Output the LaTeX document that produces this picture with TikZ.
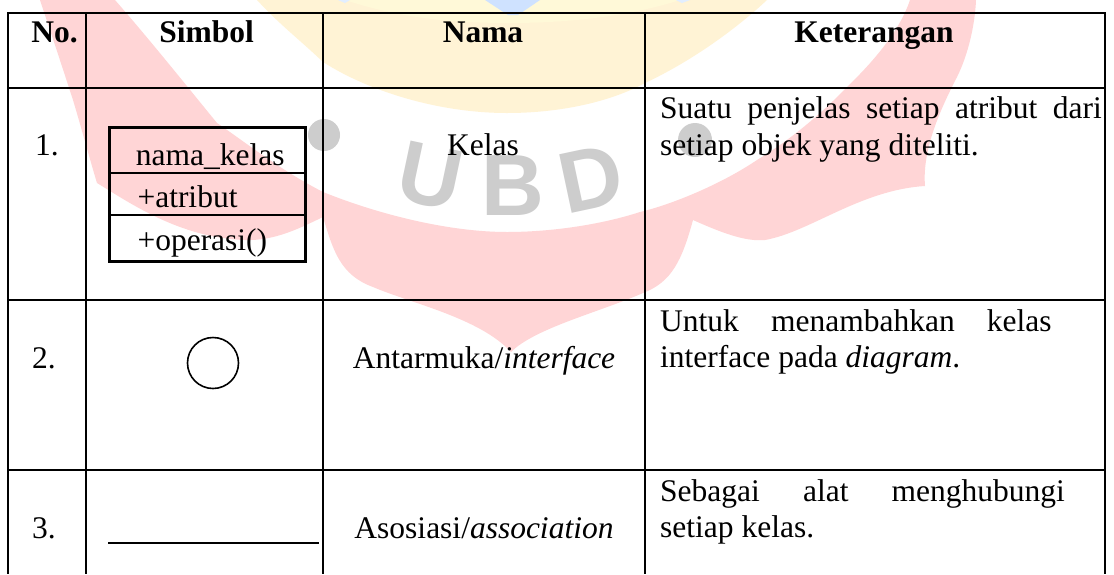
\documentclass[tikz,border=0pt]{standalone}
\usepackage{fontspec}
\setmainfont{Liberation Serif}
\newfontfamily\wmfont{Liberation Sans}
\definecolor{wmred}{HTML}{FFD5D6}
\definecolor{wmyellow}{HTML}{FFF3D5}
\definecolor{wmpale}{HTML}{FFF9D8}
\definecolor{wmblue}{HTML}{CFE2FF}
\definecolor{wmgray}{HTML}{CDCDCD}
\tikzset{
  rule/.style={line width=2pt,line cap=butt},
  boxrule/.style={line width=3pt},
  boxsep/.style={line width=1.8pt},
  body/.style={anchor=base west,inner sep=0pt,font=\fontsize{31.5pt}{36pt}\selectfont},
  bodyc/.style={anchor=base,inner sep=0pt,font=\fontsize{31.5pt}{36pt}\selectfont},
  head/.style={anchor=base,inner sep=0pt,font=\fontsize{31.5pt}{36pt}\selectfont\bfseries},
  wm/.style={anchor=base,inner sep=0pt,text=wmgray,font=\fontsize{87pt}{87pt}\wmfont\bfseries}
}
\begin{document}
\begin{tikzpicture}[x=1pt,y=-1pt]
\useasboundingbox (0,0) rectangle (1114,574);
\fill[white] (0,0) rectangle (1114,574);
% watermark
\fill[wmyellow] (257,0) .. controls (280,25) and (300,40) .. (323,62)
  .. controls (370,92) and (440,113) .. (507,113)
  .. controls (560,113) and (610,102) .. (645,83)
  .. controls (690,62) and (735,30) .. (767,0) -- cycle;
\fill[wmpale] (345,0) .. controls (400,18) and (450,23) .. (510,23)
  .. controls (570,23) and (630,16) .. (680,0) -- cycle;
\fill[wmblue] (485,0) -- (508,15) -- (518,15) -- (540,0) -- cycle;
\fill[wmblue!60] (338,0) -- (345,3) -- (350,0) -- cycle;
\fill[wmblue!60] (676,0) -- (682,3) -- (690,0) -- cycle;
\fill[wmred] (40,0) .. controls (50,30) and (60,60) .. (73,100)
  .. controls (82,130) and (90,160) .. (97,183)
  .. controls (130,203) and (180,238) .. (245,240)
  .. controls (275,241) and (300,228) .. (323,217)
  .. controls (333,250) and (340,275) .. (373,287)
  .. controls (410,303) and (480,318) .. (511,352)
  .. controls (535,328) and (600,312) .. (643,293)
  .. controls (672,282) and (682,260) .. (693,220)
  .. controls (720,232) and (745,242) .. (765,240)
  .. controls (810,232) and (860,190) .. (925,186)
  .. controls (922,150) and (940,110) .. (957,77)
  .. controls (968,55) and (975,25) .. (976,0)
  -- (910,0)
  .. controls (900,30) and (875,60) .. (847,87)
  .. controls (820,115) and (790,140) .. (757,160)
  .. controls (720,185) and (670,205) .. (640,212)
  .. controls (600,225) and (550,232) .. (507,232)
  .. controls (450,232) and (380,215) .. (323,192)
  .. controls (280,170) and (245,142) .. (217,123)
  .. controls (190,90) and (150,40) .. (115,0) -- cycle;
\fill[wmgray] (324,135) circle[radius=16];
\fill[wmgray] (695,140) circle[radius=17];
\node[wm,rotate=-12] (wmU) at (424,205) {U};
\node[wm] (wmB) at (513,215) {B};
\node[wm,rotate=12] (wmD) at (597,208) {D};
% table rules
\foreach \x in {8.3,86,322.7,645,1105} \draw[rule] (\x,12) -- (\x,574);
\draw[rule] (7.3,13) -- (1106,13);
\foreach \y in {88,299.7,469.7} \draw[rule] (7.3,\y) -- (1106,\y);
% header
\node[head] (hno) at (54.5,42) {No.};
\node[head] (hsim) at (206.7,42) {Simbol};
\node[head] (hnam) at (483,42) {Nama};
\node[head] (hket) at (874,42) {Keterangan};
% row 1
\node[body] (n1) at (35,155.5) {1.};
\node[bodyc] (nama1) at (483,155) {Kelas};
\node[body] (k1a) at (660,118) {\makebox[441.5pt][s]{Suatu penjelas setiap atribut dari}};
\node[body] (k1b) at (660,155) {setiap objek yang diteliti.};
% class box
\draw[boxrule] (109.3,127.5) rectangle (305,261);
\draw[boxsep] (110,172.7) -- (304,172.7);
\draw[boxsep] (110,215) -- (304,215);
\node[body] (c1) at (135.7,165) {nama\_kelas};
\node[body] (c2) at (137.3,207) {+atribut};
\node[body] (c3) at (137.3,250) {+operasi()};
% row 2
\node[body] (n2) at (32,368) {2.};
\draw[line width=1.6pt] (213,363) circle[radius=25.5];
\node[bodyc] (nama2) at (484,368) {Antarmuka/\textit{interface}};
\node[body] (k2a) at (660,331) {\makebox[391.5pt][s]{Untuk menambahkan kelas}};
\node[body] (k2b) at (660,367) {interface pada \textit{diagram}.};
% row 3
\node[body] (n3) at (32,538) {3.};
\draw[rule] (108,542.7) -- (318.6,542.7);
\node[bodyc] (nama3) at (484,538) {Asosiasi/\textit{association}};
\node[body] (k3a) at (660,501) {\makebox[404.7pt][s]{Sebagai alat menghubungi}};
\node[body] (k3b) at (660,537) {setiap kelas.};
\end{tikzpicture}
\end{document}
